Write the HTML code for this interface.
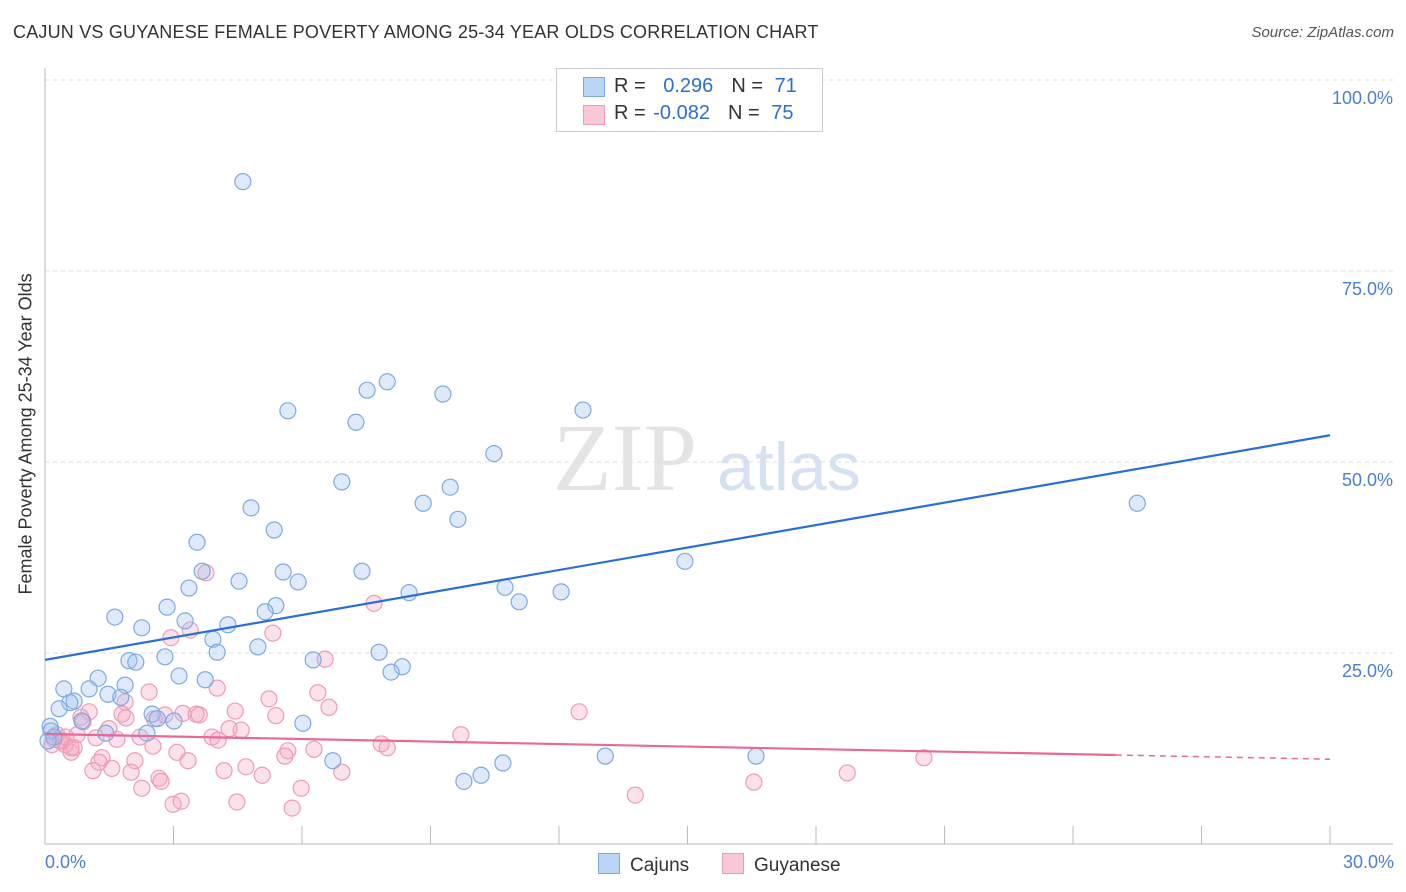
<!DOCTYPE html>
<html><head><meta charset="utf-8">
<style>
body{margin:0;background:#fff;font-family:"Liberation Sans",sans-serif;}
#wrap{position:relative;width:1406px;height:892px;overflow:hidden;}
.t{position:absolute;white-space:nowrap;}
</style></head>
<body>
<div id="wrap">
<div class="t" style="left:13px;top:22px;font-size:18px;color:#333;letter-spacing:0.2px">CAJUN VS GUYANESE FEMALE POVERTY AMONG 25-34 YEAR OLDS CORRELATION CHART</div>
<div class="t" style="right:12px;top:24px;font-size:15px;color:#555;font-style:italic">Source: ZipAtlas.com</div>
<svg id="svg" width="1406" height="892" style="position:absolute;left:0;top:0"></svg>
</div>
<script>
const yTicks=[25,50,75,100];
const yTickLabels=["25.0%","50.0%","75.0%","100.0%"];
const xTicks=[0,3,6,9,12,15,18,21,24,27,30];
const cajunX=[4.62,5.67,7.52,7.99,9.29,7.26,12.56,10.48,6.93,9.46,8.83,9.64,4.81,5.35,3.55,25.5,14.94,7.40,5.56,5.91,4.53,3.67,3.36,8.50,10.74,12.05,11.07,2.85,5.39,5.14,1.63,3.27,4.27,2.26,3.92,4.02,4.97,7.80,2.80,1.96,2.12,6.26,8.34,8.08,1.24,3.13,3.74,0.44,1.03,1.87,1.47,1.77,0.68,0.58,0.33,2.50,2.62,3.01,6.02,0.86,0.12,0.14,2.38,1.42,0.21,0.07,13.08,16.60,6.72,9.78,10.18,10.69];
const cajunY=[86.7,56.7,59.4,60.5,58.9,55.2,56.8,51.1,47.4,46.7,44.6,42.5,44.0,41.1,39.5,44.6,37.0,35.7,35.6,34.3,34.4,35.7,33.5,32.9,33.6,33.0,31.7,31.0,31.2,30.4,29.7,29.2,28.7,28.3,26.8,25.1,25.8,25.1,24.5,24.0,23.8,24.1,23.2,22.5,21.7,22.0,21.5,20.3,20.3,20.8,19.6,19.2,18.7,18.5,17.7,17.0,16.4,16.1,15.8,16.1,15.4,14.8,14.5,14.5,14.0,13.5,11.5,11.5,10.9,8.2,9.0,10.6];
const guyX=[3.76,7.68,3.39,5.32,2.94,6.54,2.43,4.02,5.23,6.37,1.87,6.63,12.47,3.22,4.44,1.03,1.80,2.80,3.53,3.60,5.39,2.55,0.84,1.89,4.30,4.58,1.49,0.89,3.90,4.04,9.71,1.19,1.68,0.75,2.22,0.21,0.37,0.47,0.61,7.85,2.52,7.99,5.67,6.28,3.08,0.61,1.33,1.26,2.10,3.34,5.60,20.52,1.12,1.56,2.01,4.18,4.69,5.07,6.93,18.73,2.66,2.71,2.26,16.55,5.98,13.78,2.99,3.18,4.48,5.77,0.28,0.35,0.49,0.68,0.16];
const guyY=[35.5,31.5,28.0,27.6,27.0,24.2,19.9,20.4,19.0,19.8,18.6,17.9,17.3,17.1,17.4,17.3,17.0,16.9,17.0,16.9,16.8,16.4,16.6,16.5,15.1,14.9,15.1,16.0,14.0,13.6,14.3,13.9,13.7,14.3,14.0,13.7,13.4,13.0,12.0,13.1,12.8,12.6,12.2,12.4,12.0,12.6,11.3,10.7,10.9,10.9,11.5,11.3,9.6,9.9,9.4,9.6,10.1,9.0,9.4,9.3,8.6,8.2,7.3,8.1,7.3,6.4,5.2,5.6,5.5,4.7,14.3,13.6,14.0,12.6,13.0];
const cajunTrend=[24.1,53.5];
const guyTrend=[14.4,11.1];
const guySolidEnd=25;

const X=v=>45+v*(1285/30);
const Y=v=>844-v*7.64;
const svg=document.getElementById('svg');
const NS='http://www.w3.org/2000/svg';
function mk(tag,a){const e=document.createElementNS(NS,tag);for(const k in a)e.setAttribute(k,a[k]);svg.appendChild(e);return e;}

// grid
let g=mk('line',{x1:45,x2:1393,y1:80,y2:80,stroke:'#ddd','stroke-dasharray':'4,4'});


yTicks.forEach((t,i)=>{
  const l=mk('line',{x1:45,x2:1393,y1:Y(t),y2:Y(t),stroke:'#ddd','stroke-dasharray':'4,4'});
  
  
  const tx=mk('text',{x:1393,y:Y(t)+24,'text-anchor':'end','font-size':18,fill:'#4a7fd4','font-family':'Liberation Sans,sans-serif'});
  tx.textContent=yTickLabels[i];
  
  
});
// axes
let ax=mk('line',{x1:45,x2:1393,y1:844,y2:844,stroke:'#bbb'});


let ay=mk('line',{x1:45,x2:45,y1:68,y2:844,stroke:'#bbb'});


xTicks.forEach(t=>{
  const l=mk('line',{x1:X(t),x2:X(t),y1:826,y2:844,stroke:'#bbb'});
  
  
});
// watermark
let wm=mk('text',{x:553,y:490,'font-size':96,fill:'#e4e4e4','font-family':'Liberation Serif,serif'});
wm.textContent='ZIP';


let wm2=mk('text',{x:717,y:490,'font-size':68,fill:'#d6e2f3','font-family':'Liberation Sans,sans-serif'});
wm2.textContent='atlas';



guyX.forEach((x,i)=>{
  const c=mk('circle',{cx:X(x),cy:Y(guyY[i]),r:8,fill:'rgba(244,170,196,0.35)',stroke:'#ef9bb8','stroke-width':1.2});
  
  
});
cajunX.forEach((x,i)=>{
  const c=mk('circle',{cx:X(x),cy:Y(cajunY[i]),r:8,fill:'rgba(160,196,240,0.35)',stroke:'#7eaae2','stroke-width':1.2});
  
  
});
let bt=mk('line',{x1:X(0),y1:Y(cajunTrend[0]),x2:X(30),y2:Y(cajunTrend[1]),stroke:'#2a6fd6','stroke-width':2.2});


const gy=v=>guyTrend[0]+(guyTrend[1]-guyTrend[0])*v/30;
let pt=mk('line',{x1:X(0),y1:Y(gy(0)),x2:X(guySolidEnd),y2:Y(gy(guySolidEnd)),stroke:'#e8689a','stroke-width':2.2});


let pd=mk('line',{x1:X(guySolidEnd),y1:Y(gy(guySolidEnd)),x2:X(30),y2:Y(gy(30)),stroke:'#e8689a','stroke-width':1.5,'stroke-dasharray':'6,5'});


</script>
<div class="t" style="left:-114px;top:444px;width:280px;text-align:center;transform:rotate(-90deg);font-size:18px;color:#333">Female Poverty Among 25-34 Year Olds</div>
<div class="t" style="left:45px;top:852px;font-size:18px;color:#4a7fd4">0.0%</div>
<div class="t" style="right:12px;top:852px;font-size:18px;color:#4a7fd4">30.0%</div>
<div style="position:absolute;left:556px;top:68px;width:265px;height:62px;border:1px solid #ccc;background:#fff;font-size:20px;color:#333">
 <div style="position:absolute;left:26px;top:8px;width:20px;height:18px;background:#bcd5f5;border:1px solid #7eaae2"></div>
 <div class="t" style="left:57px;top:6px">R = <span style="color:#2a6fd6;margin-left:12px">0.296</span><span style="margin-left:18px">N = </span><span style="color:#2a6fd6;margin-left:6px">71</span></div>
 <div style="position:absolute;left:26px;top:36px;width:20px;height:18px;background:#f9c8d8;border:1px solid #ef9bb8"></div>
 <div class="t" style="left:57px;top:33px">R = <span style="color:#2a6fd6;margin-left:2px">-0.082</span><span style="margin-left:18px">N = </span><span style="color:#2a6fd6;margin-left:6px">75</span></div>
</div>
<div class="t" style="left:598px;top:853px;font-size:19px;color:#333"><span style="display:inline-block;width:20px;height:19px;background:#bcd5f5;border:1px solid #7eaae2;vertical-align:-3px;margin-right:10px"></span>Cajuns</div>
<div class="t" style="left:722px;top:853px;font-size:19px;color:#333"><span style="display:inline-block;width:20px;height:19px;background:#f9c8d8;border:1px solid #ef9bb8;vertical-align:-3px;margin-right:10px"></span>Guyanese</div>
</body></html>
